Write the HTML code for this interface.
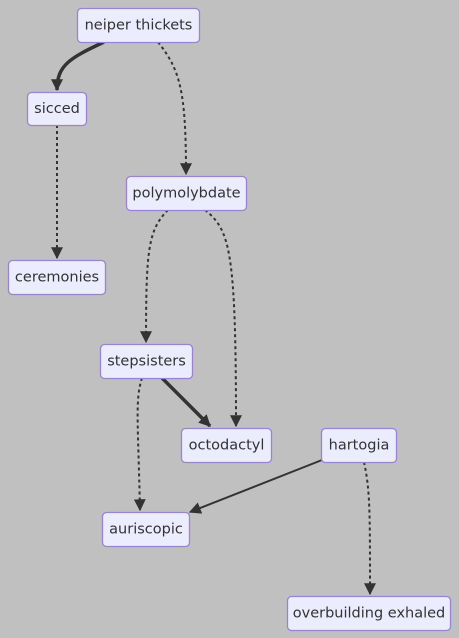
<!DOCTYPE html>
<html><head><style>
html,body{margin:0;padding:0;background:#c0c0c0;}
svg{display:block}
text{font-family:"DejaVu Sans","Liberation Sans",sans-serif;font-size:14.5px;fill:#333;text-anchor:middle;dominant-baseline:central}
rect{fill:#ECECFF;stroke:#9a84d0;stroke-width:1.3}
.e{fill:none;stroke:#333}
.d{stroke-width:2;stroke-dasharray:3 3}
.t{stroke-width:3.5}
.n{stroke-width:2}
</style></head><body>
<svg width="459" height="638" viewBox="0 0 459 638">
<defs>
<marker id="b" viewBox="0 0 10 10" refX="9" refY="5" markerWidth="12" markerHeight="12" markerUnits="userSpaceOnUse" orient="auto"><path d="M0,0L10,5L0,10z" fill="#333"/></marker>
</defs>
<path class="e t" d="M104,42 C70,58 57,65 57,90" marker-end="url(#b)"/>
<path class="e d" d="M158,42 C180,70 186,90 186,174" marker-end="url(#b)"/>
<path class="e d" d="M57,125 L57,258" marker-end="url(#b)"/>
<path class="e d" d="M168,210 C148,230 146,250 146,342" marker-end="url(#b)"/>
<path class="e d" d="M205,210 C230,230 236,250 236,426" marker-end="url(#b)"/>
<path class="e t" d="M162,378 L210,426" marker-end="url(#b)"/>
<path class="e d" d="M142,378 C135,400 138,420 140,510" marker-end="url(#b)"/>
<path class="e n" d="M322,460 L190,512" marker-end="url(#b)"/>
<path class="e d" d="M364,462 C370,490 370,510 370,594" marker-end="url(#b)"/>
<rect x="77.5" y="8.5" width="122" height="34" rx="4"/><text x="138.5" y="25.5">neiper thickets</text>
<rect x="27.5" y="92.5" width="59" height="33" rx="4"/><text x="57" y="109">sicced</text>
<rect x="126.5" y="176.5" width="120" height="34" rx="4"/><text x="186.5" y="193.5">polymolybdate</text>
<rect x="8.5" y="260.5" width="97" height="34" rx="4"/><text x="57" y="277.5">ceremonies</text>
<rect x="100.5" y="344.5" width="92" height="34" rx="4"/><text x="146.5" y="361.5">stepsisters</text>
<rect x="181.5" y="428.5" width="90" height="34" rx="4"/><text x="226.5" y="445.5">octodactyl</text>
<rect x="321.5" y="428.5" width="75" height="34" rx="4"/><text x="359" y="445.5">hartogia</text>
<rect x="102.5" y="512.5" width="87" height="34" rx="4"/><text x="146" y="529.5">auriscopic</text>
<rect x="287.5" y="596.5" width="163" height="34" rx="4"/><text x="369" y="613.5">overbuilding exhaled</text>
</svg>
</body></html>
